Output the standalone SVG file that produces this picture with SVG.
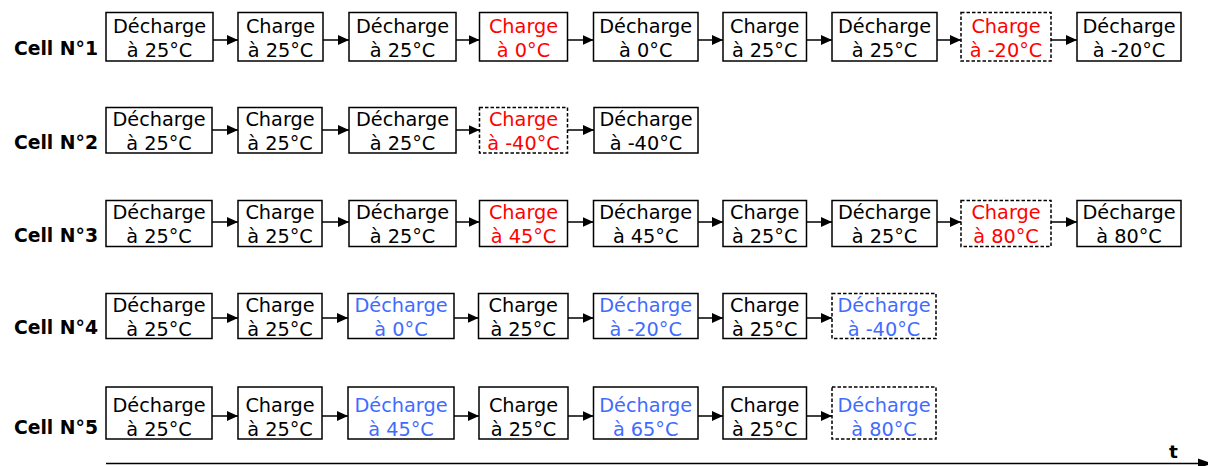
<svg xmlns="http://www.w3.org/2000/svg" width="1208" height="466" viewBox="0 0 1208 466">
<style>
.b{fill:#fff;stroke:#000;stroke-width:1.5}
.d{stroke-dasharray:3.5 2}
.t{font-family:"DejaVu Sans",Verdana,sans-serif;font-size:19.3px;text-anchor:middle;fill:#000}
.r{fill:#ff0000}
.u{fill:#3f6cff}
.l{font-family:"DejaVu Sans",Verdana,sans-serif;font-size:18.8px;font-weight:bold;text-anchor:end;fill:#000}
.a{stroke:#000;stroke-width:1.5;fill:none;marker-end:url(#ah)}
</style>
<defs>
<marker id="ah" viewBox="0 0 11 10" refX="11" refY="5" markerWidth="11" markerHeight="10" markerUnits="userSpaceOnUse" orient="auto">
<path d="M0,0 L11,5 L0,10 z" fill="#000"/>
</marker>
</defs>
<rect width="1208" height="466" fill="#fff"/>
<g id="labels">
<text class="l" x="98" y="55">Cell N°1</text>
<text class="l" x="98" y="149">Cell N°2</text>
<text class="l" x="98" y="242">Cell N°3</text>
<text class="l" x="98" y="334">Cell N°4</text>
<text class="l" x="98" y="434">Cell N°5</text>
</g>
<g id="row1">
<g id="r1n1"><rect class="b" x="106" y="12.5" width="107" height="48.5"/><text class="t" x="159.5" y="33">Décharge</text><text class="t" x="159.5" y="56.5">à 25°C</text></g>
<g id="r1n2"><rect class="b" x="238" y="12.5" width="85" height="48.5"/><text class="t" x="280.5" y="33">Charge</text><text class="t" x="280.5" y="56.5">à 25°C</text></g>
<g id="r1n3"><rect class="b" x="349" y="12.5" width="107" height="48.5"/><text class="t" x="402.5" y="33">Décharge</text><text class="t" x="402.5" y="56.5">à 25°C</text></g>
<g id="r1n4"><rect class="b" x="479.5" y="12.5" width="88" height="48.5"/><text class="t r" x="523.5" y="33">Charge</text><text class="t r" x="523.5" y="56.5">à 0°C</text></g>
<g id="r1n5"><rect class="b" x="593.5" y="12.5" width="104.5" height="48.5"/><text class="t" x="645.7" y="33">Décharge</text><text class="t" x="645.7" y="56.5">à 0°C</text></g>
<g id="r1n6"><rect class="b" x="723" y="12.5" width="83.5" height="48.5"/><text class="t" x="764.7" y="33">Charge</text><text class="t" x="764.7" y="56.5">à 25°C</text></g>
<g id="r1n7"><rect class="b" x="832" y="12.5" width="105" height="48.5"/><text class="t" x="884.5" y="33">Décharge</text><text class="t" x="884.5" y="56.5">à 25°C</text></g>
<g id="r1n8"><rect class="b d" x="961" y="12.5" width="90" height="48.5"/><text class="t r" x="1006" y="33">Charge</text><text class="t r" x="1006" y="56.5">à -20°C</text></g>
<g id="r1n9"><rect class="b" x="1077" y="12.5" width="104" height="48.5"/><text class="t" x="1129" y="33">Décharge</text><text class="t" x="1129" y="56.5">à -20°C</text></g>
</g>
<g id="row2">
<g id="r2n1"><rect class="b" x="106" y="107.5" width="106" height="45.5"/><text class="t" x="159" y="125.5">Décharge</text><text class="t" x="159" y="150">à 25°C</text></g>
<g id="r2n2"><rect class="b" x="238" y="107.5" width="84" height="45.5"/><text class="t" x="280" y="125.5">Charge</text><text class="t" x="280" y="150">à 25°C</text></g>
<g id="r2n3"><rect class="b" x="349" y="107.5" width="107" height="45.5"/><text class="t" x="402.5" y="125.5">Décharge</text><text class="t" x="402.5" y="150">à 25°C</text></g>
<g id="r2n4"><rect class="b d" x="479.5" y="107.5" width="88" height="45.5"/><text class="t r" x="523.5" y="125.5">Charge</text><text class="t r" x="523.5" y="150">à -40°C</text></g>
<g id="r2n5"><rect class="b" x="594" y="107.5" width="104" height="45.5"/><text class="t" x="646" y="125.5">Décharge</text><text class="t" x="646" y="150">à -40°C</text></g>
</g>
<g id="row3">
<g id="r3n1"><rect class="b" x="106" y="200.5" width="106" height="46"/><text class="t" x="159" y="218.5">Décharge</text><text class="t" x="159" y="243">à 25°C</text></g>
<g id="r3n2"><rect class="b" x="238" y="200.5" width="84" height="46"/><text class="t" x="280" y="218.5">Charge</text><text class="t" x="280" y="243">à 25°C</text></g>
<g id="r3n3"><rect class="b" x="349" y="200.5" width="107" height="46"/><text class="t" x="402.5" y="218.5">Décharge</text><text class="t" x="402.5" y="243">à 25°C</text></g>
<g id="r3n4"><rect class="b" x="479.5" y="200.5" width="88" height="46"/><text class="t r" x="523.5" y="218.5">Charge</text><text class="t r" x="523.5" y="243">à 45°C</text></g>
<g id="r3n5"><rect class="b" x="593.5" y="200.5" width="104.5" height="46"/><text class="t" x="645.7" y="218.5">Décharge</text><text class="t" x="645.7" y="243">à 45°C</text></g>
<g id="r3n6"><rect class="b" x="723" y="200.5" width="83.5" height="46"/><text class="t" x="764.7" y="218.5">Charge</text><text class="t" x="764.7" y="243">à 25°C</text></g>
<g id="r3n7"><rect class="b" x="832" y="200.5" width="105" height="46"/><text class="t" x="884.5" y="218.5">Décharge</text><text class="t" x="884.5" y="243">à 25°C</text></g>
<g id="r3n8"><rect class="b d" x="961" y="200.5" width="90" height="46"/><text class="t r" x="1006" y="218.5">Charge</text><text class="t r" x="1006" y="243">à 80°C</text></g>
<g id="r3n9"><rect class="b" x="1077" y="200.5" width="104" height="46"/><text class="t" x="1129" y="218.5">Décharge</text><text class="t" x="1129" y="243">à 80°C</text></g>
</g>
<g id="row4">
<g id="r4n1"><rect class="b" x="106" y="293.5" width="106" height="45"/><text class="t" x="159" y="311.5">Décharge</text><text class="t" x="159" y="335.5">à 25°C</text></g>
<g id="r4n2"><rect class="b" x="238" y="293.5" width="84" height="45"/><text class="t" x="280" y="311.5">Charge</text><text class="t" x="280" y="335.5">à 25°C</text></g>
<g id="r4n3"><rect class="b" x="348" y="293.5" width="106" height="45"/><text class="t u" x="401" y="311.5">Décharge</text><text class="t u" x="401" y="335.5">à 0°C</text></g>
<g id="r4n4"><rect class="b" x="478.5" y="293.5" width="89.5" height="45"/><text class="t" x="523.2" y="311.5">Charge</text><text class="t" x="523.2" y="335.5">à 25°C</text></g>
<g id="r4n5"><rect class="b" x="593.5" y="293.5" width="104.5" height="45"/><text class="t u" x="645.7" y="311.5">Décharge</text><text class="t u" x="645.7" y="335.5">à -20°C</text></g>
<g id="r4n6"><rect class="b" x="723" y="293.5" width="83.5" height="45"/><text class="t" x="764.7" y="311.5">Charge</text><text class="t" x="764.7" y="335.5">à 25°C</text></g>
<g id="r4n7"><rect class="b d" x="832" y="293.5" width="104" height="45"/><text class="t u" x="884" y="311.5">Décharge</text><text class="t u" x="884" y="335.5">à -40°C</text></g>
</g>
<g id="row5">
<g id="r5n1"><rect class="b" x="106" y="387" width="106" height="52"/><text class="t" x="159" y="411.5">Décharge</text><text class="t" x="159" y="435.5">à 25°C</text></g>
<g id="r5n2"><rect class="b" x="238" y="387" width="84" height="52"/><text class="t" x="280" y="411.5">Charge</text><text class="t" x="280" y="435.5">à 25°C</text></g>
<g id="r5n3"><rect class="b" x="348" y="387" width="106" height="52"/><text class="t u" x="401" y="411.5">Décharge</text><text class="t u" x="401" y="435.5">à 45°C</text></g>
<g id="r5n4"><rect class="b" x="479" y="387" width="89" height="52"/><text class="t" x="523.5" y="411.5">Charge</text><text class="t" x="523.5" y="435.5">à 25°C</text></g>
<g id="r5n5"><rect class="b" x="593.5" y="387" width="104.5" height="52"/><text class="t u" x="645.7" y="411.5">Décharge</text><text class="t u" x="645.7" y="435.5">à 65°C</text></g>
<g id="r5n6"><rect class="b" x="723" y="387" width="83.5" height="52"/><text class="t" x="764.7" y="411.5">Charge</text><text class="t" x="764.7" y="435.5">à 25°C</text></g>
<g id="r5n7"><rect class="b d" x="832" y="387" width="104" height="52"/><text class="t u" x="884" y="411.5">Décharge</text><text class="t u" x="884" y="435.5">à 80°C</text></g>
</g>
<g id="connectors">
<path class="a" d="M213,40H238"/>
<path class="a" d="M323,40H349"/>
<path class="a" d="M456,40H479.5"/>
<path class="a" d="M567.5,40H593.5"/>
<path class="a" d="M698,40H723"/>
<path class="a" d="M806.5,40H832"/>
<path class="a" d="M937,40H961"/>
<path class="a" d="M1051,40H1077"/>
<path class="a" d="M212,130H238"/>
<path class="a" d="M322,130H349"/>
<path class="a" d="M456,130H479.5"/>
<path class="a" d="M567.5,130H594"/>
<path class="a" d="M212,222H238"/>
<path class="a" d="M322,222H349"/>
<path class="a" d="M456,222H479.5"/>
<path class="a" d="M567.5,222H593.5"/>
<path class="a" d="M698,222H723"/>
<path class="a" d="M806.5,222H832"/>
<path class="a" d="M937,222H961"/>
<path class="a" d="M1051,222H1077"/>
<path class="a" d="M212,318H238"/>
<path class="a" d="M322,318H348"/>
<path class="a" d="M454,318H478.5"/>
<path class="a" d="M568,318H593.5"/>
<path class="a" d="M698,318H723"/>
<path class="a" d="M806.5,318H832"/>
<path class="a" d="M212,416H238"/>
<path class="a" d="M322,416H348"/>
<path class="a" d="M454,416H479"/>
<path class="a" d="M568,416H593.5"/>
<path class="a" d="M698,416H723"/>
<path class="a" d="M806.5,416H832"/>
</g>
<g id="axis">
<path d="M106,463.5H1210" stroke="#000" stroke-width="1.5" fill="none"/>
<path d="M1198,458.5L1212,463.5L1198,468.5z" fill="#000"/>
<text x="1169" y="458" font-family="'DejaVu Sans',Verdana,sans-serif" font-size="18.5px" font-weight="bold" fill="#000">t</text>
</g>
</svg>
